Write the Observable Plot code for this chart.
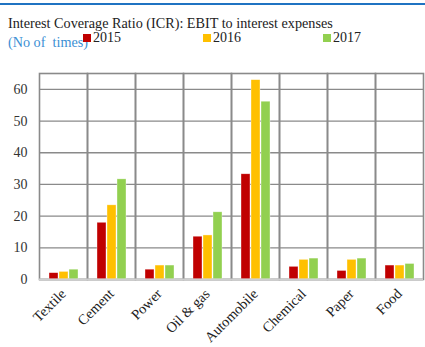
<!DOCTYPE html>
<html>
<head>
<meta charset="utf-8">
<script src="https://cdn.jsdelivr.net/npm/d3@7"></script>
<script src="https://cdn.jsdelivr.net/npm/@observablehq/plot@0.6"></script>
<style>
  body { margin: 0; background: #fff; }
  div { font-family: "Liberation Serif", "Times New Roman", serif; }
  #wrap { position: relative; width: 425px; height: 347px; overflow: hidden; }
  #topline { position: absolute; left: 0; top: 3px; width: 425px; height: 2px; background: #1f73c2; }
  #title { position: absolute; left: 8px; top: 14.5px; font-size: 14.2px; color: #222; white-space: pre; }
  #unit { position: absolute; left: 8px; top: 34px; font-size: 14.2px; color: #3b8fd4; white-space: pre; }
  .leg { position: absolute; top: 29.5px; font-size: 14px; color: #222; white-space: nowrap; }
  .leg i { display: inline-block; width: 7.5px; height: 7.5px; margin-right: 2.5px; vertical-align: 0px; }
  #chart { position: absolute; left: 0; top: 0; }
</style>
</head>
<body>
<div id="wrap">
  <div id="chart"></div>
  <div id="topline"></div>
  <div id="title">Interest Coverage Ratio (ICR): EBIT to interest expenses</div>
  <div id="unit">(No of  times)</div>
  <div id="legend"></div>
</div>
<script>
// Sectors on the x axis
const sectors = ["Textile", "Cement", "Power", "Oil & gas", "Automobile", "Chemical", "Paper", "Food"];
// Years in the legend
const years = ["2015", "2016", "2017"];
const yearColors = ["#c00000", "#ffc000", "#92d050"];
// ICR per sector, one list per year
const icr2015 = [2.0, 17.9, 3.1, 13.5, 33.2, 4.0, 2.7, 4.4];
const icr2016 = [2.4, 23.4, 4.4, 13.9, 62.9, 6.2, 6.2, 4.4];
const icr2017 = [3.1, 31.6, 4.4, 21.2, 56.1, 6.6, 6.6, 4.9];
const yTicks = [0, 10, 20, 30, 40, 50, 60];

const series = [icr2015, icr2016, icr2017];
const rows = [];
sectors.forEach((s, i) => years.forEach((y, j) => rows.push({sector: s, year: y, value: series[j][i]})));

// legend entries
const legendX = [83, 203, 323];
const legend = document.getElementById("legend");
years.forEach((y, j) => {
  const d = document.createElement("div");
  d.className = "leg";
  d.style.left = legendX[j] + "px";
  d.innerHTML = `<i style="background:${yearColors[j]}"></i>${y}`;
  legend.appendChild(d);
});

const serif = `"Liberation Serif", "Times New Roman", serif`;
const chart = Plot.plot({
  width: 425,
  height: 347,
  marginTop: 73,
  marginBottom: 68,
  marginLeft: 37,
  marginRight: 0,
  style: {fontFamily: serif, fontSize: "14px", color: "#333", background: "transparent"},
  fx: {domain: sectors, padding: 0, label: null},
  x: {domain: years, axis: null, paddingInner: 0.14, paddingOuter: 0.78},
  y: {domain: [0, 65], label: null},
  color: {domain: years, range: yearColors},
  marks: [
    Plot.gridY(yTicks, {stroke: "#8a8a8a", strokeOpacity: 1, strokeWidth: 1.3}),
    Plot.frame({stroke: "#8a8a8a", strokeWidth: 1.6}),
    Plot.barY(rows, {fx: "sector", x: "year", y: "value", fill: "year", stroke: "#fff", strokeOpacity: 0.6, strokeWidth: 0.6}),
    Plot.ruleY([0], {stroke: "#cfcfcf", strokeWidth: 2.2}),
    Plot.axisY(yTicks, {tickSize: 0, tickPadding: 12, label: null, fill: "#333", fontSize: 14, fontFamily: serif}),
    Plot.axisFx({anchor: "bottom", tickRotate: -45, tickSize: 0, tickPadding: 12, label: null, fill: "#222", fontSize: 14.3, fontFamily: serif})
  ]
});
document.getElementById("chart").appendChild(chart);
</script>
</body>
</html>
